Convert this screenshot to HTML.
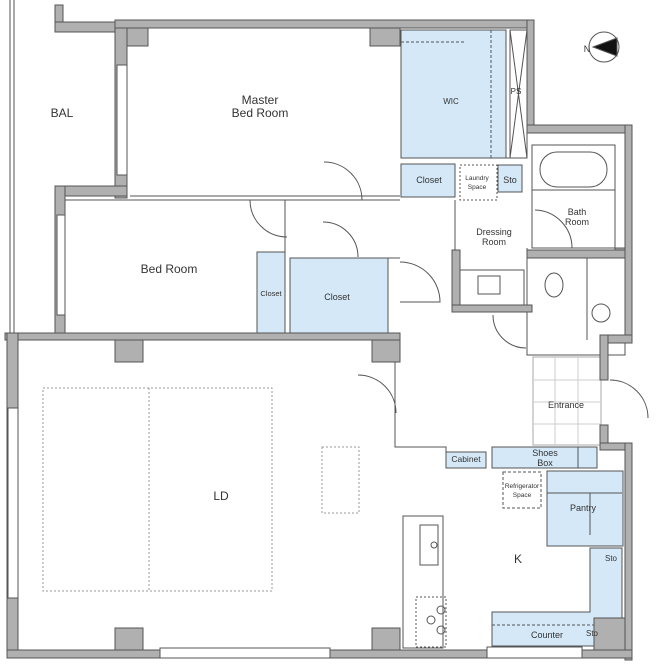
<!DOCTYPE html>
<html><head><meta charset="utf-8"><style>
html,body{margin:0;padding:0;background:#fff}
svg{display:block}
text{font-family:"Liberation Sans",sans-serif;fill:#333}
</style></head><body>
<svg width="658" height="667" viewBox="0 0 658 667" xmlns="http://www.w3.org/2000/svg">
<g fill="#d4e8f7" stroke="#555" stroke-width="1">
<rect x="401" y="30" width="105" height="128"/>
<rect x="401" y="164" width="54" height="33"/>
<rect x="498" y="165" width="24" height="27"/>
<rect x="257" y="252" width="28" height="81"/>
<rect x="290" y="258" width="98" height="75"/>
<rect x="492" y="447" width="105" height="21"/>
<rect x="446" y="452" width="40" height="16"/>
<rect x="547" y="471" width="76" height="75"/>
<path d="M590 548 H622 V646 H492 V612 H590 Z"/>
</g>
<g fill="none" stroke="#555" stroke-width="1">
<line x1="401" y1="42" x2="466" y2="42" stroke-dasharray="3,2"/>
<line x1="491" y1="30" x2="491" y2="158" stroke-dasharray="3,2"/>
<rect x="510" y="30" width="17" height="128"/>
<line x1="510" y1="30" x2="527" y2="158"/><line x1="527" y1="30" x2="510" y2="158"/>
<rect x="460" y="165" width="37" height="35" stroke-dasharray="2,2"/>
<line x1="578" y1="447" x2="578" y2="468"/>
<rect x="503" y="472" width="38" height="36" stroke-dasharray="3,2"/>
<line x1="547" y1="493" x2="622" y2="493"/>
<line x1="590" y1="493" x2="590" y2="535"/>
<line x1="492" y1="625" x2="600" y2="625" stroke-dasharray="3,2"/>
<rect x="403" y="516" width="40" height="132"/>
<rect x="420" y="525" width="18" height="40"/>
<circle cx="434" cy="545" r="3"/>
<rect x="416" y="597" width="30" height="50" stroke-dasharray="2,2"/>
<circle cx="441" cy="610" r="4"/><circle cx="441" cy="630" r="4"/><circle cx="431" cy="620" r="4"/>
<rect x="43" y="388" width="229" height="203" stroke="#999" stroke-dasharray="2,2"/>
<line x1="149" y1="388" x2="149" y2="591" stroke="#999" stroke-dasharray="2,2"/>
<rect x="322" y="447" width="37" height="66" stroke="#999" stroke-dasharray="2,2"/>
<rect x="532" y="145" width="83" height="103"/>
<rect x="540" y="152" width="67" height="35" rx="17"/>
<line x1="532" y1="190" x2="615" y2="190"/>
<rect x="459" y="270" width="65" height="35"/>
<rect x="478" y="276" width="22" height="18"/>
<rect x="527" y="258" width="98" height="97"/>
<ellipse cx="554" cy="285" rx="9" ry="12"/>
<line x1="587" y1="258" x2="587" y2="340"/>
<circle cx="601" cy="313" r="9"/>
<rect x="533" y="357" width="68" height="88" stroke="#aaa"/>
<path d="M555 357V445M578 357V445M533 380H601M533 402H601M533 424H601" stroke="#ccc"/>
<path d="M130 196H400M130 200H400" />
<path d="M65 200H255" />
<line x1="285" y1="200" x2="285" y2="333"/>
<line x1="388" y1="258" x2="400" y2="258"/>
<path d="M395 340V447H446V452" />
<path d="M401 30V158M401 158H527"/>
<path d="M455 200V305H527V248"/>
<path d="M362 200 A38 38 0 0 0 324 162"/>
<path d="M250 200 A37 37 0 0 0 287 237"/>
<path d="M323 222 A35 35 0 0 1 358 257"/>
<path d="M400 262 A40 40 0 0 1 440 302 H400"/>
<path d="M535 210 A38 38 0 0 1 572 248"/>
<path d="M493 315 A33 33 0 0 0 526 348"/>
<path d="M358 375 A38 38 0 0 1 396 413"/>
<path d="M610 380 A38 38 0 0 1 648 418"/>
<circle cx="604" cy="47" r="15"/>
<path d="M593 47 L617 38 L617 56 Z" fill="#111"/>
</g>
<g fill="#b0b0b0" stroke="#555" stroke-width="1">
<rect x="55" y="5" width="8" height="27"/>
<rect x="55" y="22" width="65" height="10"/>
<rect x="115" y="20" width="415" height="8"/>
<rect x="115" y="28" width="33" height="18"/>
<rect x="115" y="28" width="12" height="170"/>
<rect x="370" y="28" width="30" height="18"/>
<rect x="55" y="186" width="72" height="10"/>
<rect x="55" y="186" width="10" height="150"/>
<rect x="527" y="20" width="7" height="112"/>
<rect x="527" y="125" width="105" height="8"/>
<rect x="625" y="125" width="7" height="215"/>
<rect x="600" y="335" width="32" height="8"/>
<rect x="600" y="335" width="8" height="45"/>
<rect x="600" y="425" width="8" height="25"/>
<rect x="600" y="443" width="32" height="7"/>
<rect x="625" y="443" width="7" height="217"/>
<rect x="615" y="248" width="10" height="10"/>
<rect x="527" y="250" width="98" height="8"/>
<rect x="452" y="250" width="8" height="62"/>
<rect x="452" y="305" width="80" height="7"/>
<rect x="5" y="333" width="395" height="7"/>
<rect x="7" y="333" width="11" height="325"/>
<rect x="115" y="340" width="28" height="22"/>
<rect x="372" y="340" width="28" height="22"/>
<rect x="7" y="650" width="625" height="8"/>
<rect x="115" y="628" width="28" height="22"/>
<rect x="372" y="628" width="28" height="22"/>
<rect x="594" y="618" width="31" height="32"/>
</g>
<g fill="#fff" stroke="#555" stroke-width="1">
<rect x="117" y="65" width="10" height="110"/>
<rect x="57" y="215" width="8" height="100"/>
<rect x="8" y="408" width="10" height="190"/>
<rect x="160" y="648" width="170" height="10"/>
<rect x="487" y="647" width="95" height="11"/>
<line x1="10" y1="0" x2="10" y2="333"/><line x1="14" y1="0" x2="14" y2="333"/>
</g>
<text x="62" y="117" font-size="12" text-anchor="middle">BAL</text>
<text x="260" y="104" font-size="12" text-anchor="middle">Master</text>
<text x="260" y="117" font-size="12" text-anchor="middle">Bed Room</text>
<text x="451" y="104" font-size="8" text-anchor="middle">WIC</text>
<text x="516" y="94" font-size="8" text-anchor="middle">PS</text>
<text x="429" y="183" font-size="9" text-anchor="middle">Closet</text>
<text x="477" y="180" font-size="6.5" text-anchor="middle">Laundry</text>
<text x="477" y="189" font-size="6.5" text-anchor="middle">Space</text>
<text x="510" y="183" font-size="9" text-anchor="middle">Sto</text>
<text x="577" y="215" font-size="9" text-anchor="middle">Bath</text>
<text x="577" y="225" font-size="9" text-anchor="middle">Room</text>
<text x="494" y="235" font-size="9" text-anchor="middle">Dressing</text>
<text x="494" y="245" font-size="9" text-anchor="middle">Room</text>
<text x="169" y="273" font-size="12" text-anchor="middle">Bed Room</text>
<text x="271" y="296" font-size="7.5" text-anchor="middle">Closet</text>
<text x="337" y="300" font-size="9" text-anchor="middle">Closet</text>
<text x="566" y="408" font-size="9" text-anchor="middle">Entrance</text>
<text x="545" y="456" font-size="9" text-anchor="middle">Shoes</text>
<text x="545" y="466" font-size="9" text-anchor="middle">Box</text>
<text x="466" y="462" font-size="8.5" text-anchor="middle">Cabinet</text>
<text x="522" y="488" font-size="6.5" text-anchor="middle">Refrigerator</text>
<text x="522" y="497" font-size="6.5" text-anchor="middle">Space</text>
<text x="583" y="511" font-size="9" text-anchor="middle">Pantry</text>
<text x="221" y="500" font-size="12" text-anchor="middle">LD</text>
<text x="518" y="563" font-size="12" text-anchor="middle">K</text>
<text x="611" y="561" font-size="8" text-anchor="middle">Sto</text>
<text x="547" y="638" font-size="9" text-anchor="middle">Counter</text>
<text x="592" y="636" font-size="8" text-anchor="middle">Sto</text>
<text x="587" y="52" font-size="9" text-anchor="middle">N</text>
</svg>
</body></html>
